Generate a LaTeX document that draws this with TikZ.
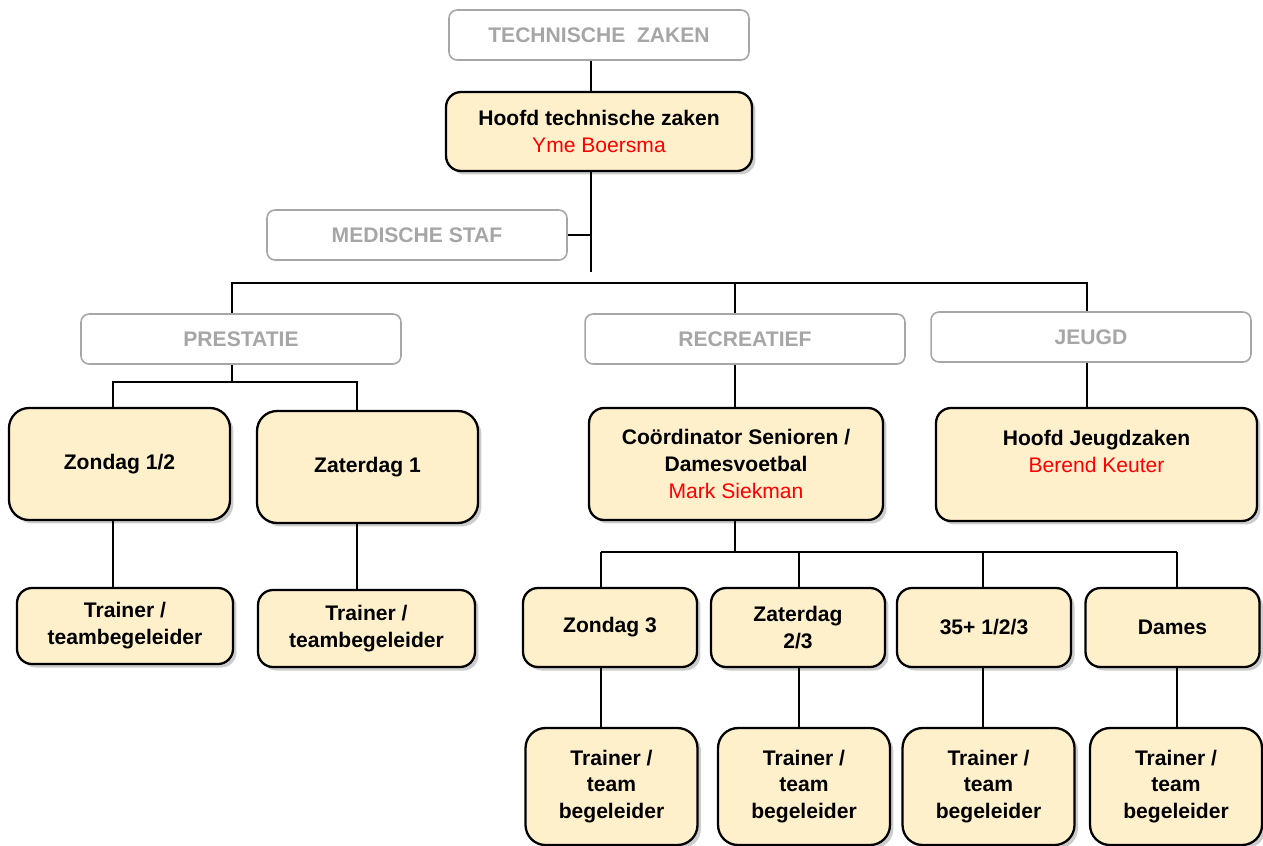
\documentclass[tikz,border=0pt]{standalone}
\usepackage{fontspec}
\setmainfont{Liberation Sans}
\usetikzlibrary{shadows}
\definecolor{boxfill}{RGB}{255,240,204}
\definecolor{headgray}{RGB}{166,166,166}
\definecolor{namered}{RGB}{255,0,0}

\begin{document}
\begin{tikzpicture}[x=0.02cm,y=-0.02cm,
  head/.style = {rectangle,rounded corners=0.16cm,draw=headgray,line width=0.9pt,fill=white,text=headgray,
                 font=\fontsize{12}{15.3}\selectfont\bfseries,minimum width=6.4cm,minimum height=1cm,inner sep=0pt},
  post/.style = {rectangle,rounded corners=0.3cm,draw=black,line width=1.3pt,fill=boxfill,align=center,
                 font=\fontsize{12}{15.3}\selectfont\bfseries,inner sep=0pt,
                 drop shadow={shadow xshift=0.07cm,shadow yshift=-0.07cm,opacity=0.4}},
  link/.style = {draw=black,line width=0.6pt}]
\useasboundingbox (0,0) rectangle (1263,845);
% top of the tree
\node[head,minimum width=6cm] (tz) at (599,35) {TECHNISCHE\ \ ZAKEN};
\node[post,minimum width=6.12cm,minimum height=1.58cm] (hoofd) at (599,131.5)
     {Hoofd technische zaken\\\textcolor{namered}{\mdseries Yme Boersma}};
\node[head,minimum width=6cm] (med) at (417,235) {MEDISCHE STAF};
\node[head] (pres) at (241,339) {PRESTATIE};
\node[head] (rec) at (745,339) {RECREATIEF};
\node[head] (jeugd) at (1091,337) {JEUGD};
\coordinate (spine) at (591,272);
\draw[link] (tz.south -| spine) -- (hoofd.north -| spine) (hoofd.south -| spine) -- (spine)
            (med.east) -- (med.east -| spine);
\coordinate (barL) at (232,283);
\coordinate (barM) at (735,283);
\coordinate (barR) at (1087,283);
\draw[link] (barL |- pres.north) -- (barL) -- (barR) -- (barR |- jeugd.north) (barM) -- (barM |- rec.north);
% prestatie
\node[post,minimum width=4.42cm,minimum height=2.24cm,rounded corners=0.4cm] (zon) at (119.5,464) {Zondag 1/2};
\node[post,minimum width=4.42cm,minimum height=2.24cm,rounded corners=0.4cm] (zat) at (367.5,467) {Zaterdag 1};
\node[post,minimum width=4.32cm,minimum height=1.52cm] (trzon) at (125,626) {Trainer /\\teambegeleider};
\node[post,minimum width=4.34cm,minimum height=1.54cm] (trzat) at (366.5,628.5) {Trainer /\\teambegeleider};
\coordinate (pL) at (113,382);
\coordinate (pR) at (357,382);
\draw[link] (barL |- pres.south) -- (barL |- pL) (pL |- zon.north) -- (pL) -- (pR) -- (pR |- zat.north)
            (pL |- zon.south) -- (pL |- trzon.north) (pR |- zat.south) -- (pR |- trzat.north);
% recreatief en jeugd
\node[post,minimum width=5.88cm,minimum height=2.24cm] (coord) at (736,464)
     {Coördinator Senioren /\\Damesvoetbal\\\textcolor{namered}{\mdseries Mark Siekman}};
\node[post,minimum width=6.42cm,minimum height=2.26cm] (hjeugd) at (1096.5,464.5)
     {Hoofd Jeugdzaken\\\textcolor{namered}{\mdseries Berend Keuter}\\\mbox{}};
\coordinate (cbar) at (735,552);
\draw[link] (barM |- rec.south) -- (barM |- coord.north) (barR |- jeugd.south) -- (barR |- hjeugd.north)
            (cbar |- coord.south) -- (cbar);
\foreach \nm/\txt/\cx/\tx/\lx [count=\k] in {zthree/Zondag 3/610/611.5/601, ztwothree/{Zaterdag\\2/3}/798/804/799,
    plus/{35+ 1/2/3}/984/988.5/983, dames/Dames/1172.5/1176/1177}
{
  \node[post,minimum width=3.48cm,minimum height=1.58cm] (\nm) at (\cx,627.5) {\txt};
  \node[post,minimum width=3.44cm,minimum height=2.34cm,rounded corners=0.4cm] (tr\nm) at (\tx,786.5)
       {Trainer /\\team\\begeleider};
  \coordinate (bar\k) at (\lx,552);
  \draw[link] (bar\k) -- (bar\k |- \nm.north) (bar\k |- \nm.south) -- (bar\k |- tr\nm.north);
}
\draw[link] (bar1) -- (bar4);
\end{tikzpicture}
\end{document}
